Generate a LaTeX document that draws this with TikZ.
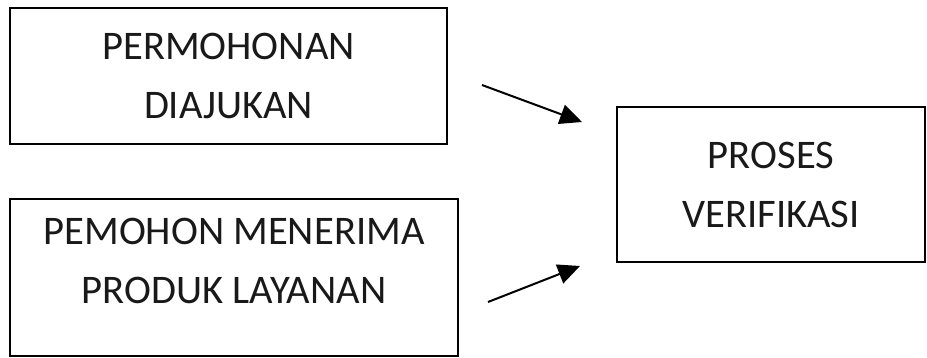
\documentclass[tikz,border=0pt]{standalone}
\usepackage{fontspec}
\setmainfont{Carlito}
\usepackage{tikz}
\usetikzlibrary{arrows.meta, positioning, calc}
\tikzstyle{box} = [rectangle, draw=black, line width=1pt, align=center, inner sep=0pt, font=\fontsize{20.3}{29.5}\selectfont, text=black!90]
\tikzstyle{arrow} = [line width=1pt, -{Triangle[length=11pt, width=10pt]}]

\begin{document}
\begin{tikzpicture}[x=0.5pt, y=-0.5pt]
\useasboundingbox (0,0) rectangle (927,358);
\node (ajuan) [box, minimum width=218.5pt, minimum height=68pt] at (228.5,76) {PERMOHONAN\\DIAJUKAN};
\node (terima) [box, minimum width=224pt, minimum height=78.5pt, text depth=17pt] at (234,277.5) {PEMOHON MENERIMA\\PRODUK LAYANAN};
\node (verif) [box, minimum width=154pt, minimum height=77.5pt] at (771,184.5) {PROSES\\VERIFIKASI};

\coordinate (a1) at (482,85);
\coordinate (a2) at (582,122);
\coordinate (b1) at (488,302);
\coordinate (b2) at (580,266);

\draw [arrow] (a1) -- (a2);
\draw [arrow] (b1) -- (b2);
\end{tikzpicture}
\end{document}
